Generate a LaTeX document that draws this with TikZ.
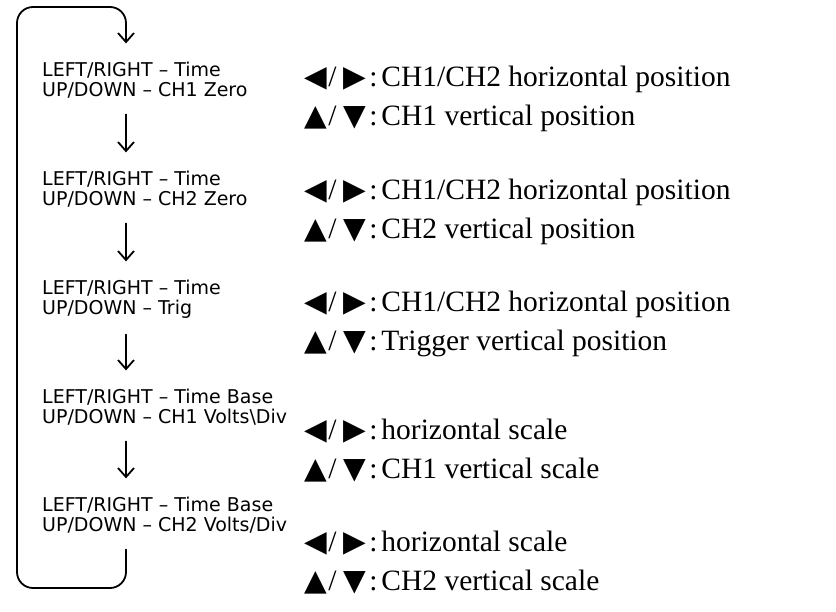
\documentclass[tikz,border=0pt]{standalone}
\usepackage{fontspec}
\setmainfont{Liberation Serif}
\newfontfamily\keyfont{DejaVu Sans}
\newfontfamily\symfont{DejaVu Sans}
\usetikzlibrary{arrows.meta,positioning}
\newcommand{\lrkeys}{{\symfont ◀}\hspace{1.5pt}/\hspace{7pt}{\symfont ▶}\hspace{3pt}:\hspace{4pt}}
\newcommand{\udkeys}{{\symfont ▲}\hspace{1.5pt}/\hspace{7pt}{\symfont ▼}\hspace{3pt}:\hspace{4pt}}
\tikzset{
  keybox/.style={inner sep=0pt,anchor=base west,align=left,font=\keyfont\fontsize{19}{20}\selectfont},
  descbox/.style={inner sep=0pt,anchor=base west,align=left,font=\fontsize{29.5}{39}\selectfont},
  flow/.style={-{Straight Barb[length=9pt,width=16pt]},line width=1.8pt,line cap=round,shorten <=16.5pt,shorten >=18pt}
}
\begin{document}
\begin{tikzpicture}[x=1pt,y=-1pt]
  \useasboundingbox (0,0) rectangle (836,611);
  % loop corners
  \coordinate (ltop) at (17,7);
  \coordinate (rtop) at (126,7);
  \coordinate (lbot) at (17,588);
  \coordinate (rbot) at (126,588);
  % key modes (anchored on the last line)
  \node[keybox] (b1) at (42,96) {LEFT/RIGHT – Time\\UP/DOWN – CH1 Zero};
  \node[keybox] (b2) at (42,205) {LEFT/RIGHT – Time\\UP/DOWN – CH2 Zero};
  \node[keybox] (b3) at (42,314) {LEFT/RIGHT – Time\\UP/DOWN – Trig};
  \node[keybox] (b4) at (42,423) {LEFT/RIGHT – Time Base\\UP/DOWN – CH1 Volts\textbackslash Div};
  \node[keybox] (b5) at (42,531) {LEFT/RIGHT – Time Base\\UP/DOWN – CH2 Volts/Div};
  % what the keys do
  \node[descbox] (r1) at (304,125) {\lrkeys CH1/CH2 horizontal position\\\udkeys CH1 vertical position};
  \node[descbox] (r2) at (304,238) {\lrkeys CH1/CH2 horizontal position\\\udkeys CH2 vertical position};
  \node[descbox] (r3) at (304,350) {\lrkeys CH1/CH2 horizontal position\\\udkeys Trigger vertical position};
  \node[descbox] (r4) at (304,478) {\lrkeys horizontal scale\\\udkeys CH1 vertical scale};
  \node[descbox] (r5) at (304,590) {\lrkeys horizontal scale\\\udkeys CH2 vertical scale};
  % arrows
  \draw[flow] (b1.south -| rtop) -- (b2.north -| rtop);
  \draw[flow] (b2.south -| rtop) -- (b3.north -| rtop);
  \draw[flow] (b3.south -| rtop) -- (b4.north -| rtop);
  \draw[flow] (b4.south -| rtop) -- (b5.north -| rtop);
  \draw[flow,rounded corners=16pt] (b5.south -| rtop) -- (rbot) -- (lbot) -- (ltop) -- (rtop) -- (b1.north -| rtop);
\end{tikzpicture}
\end{document}
